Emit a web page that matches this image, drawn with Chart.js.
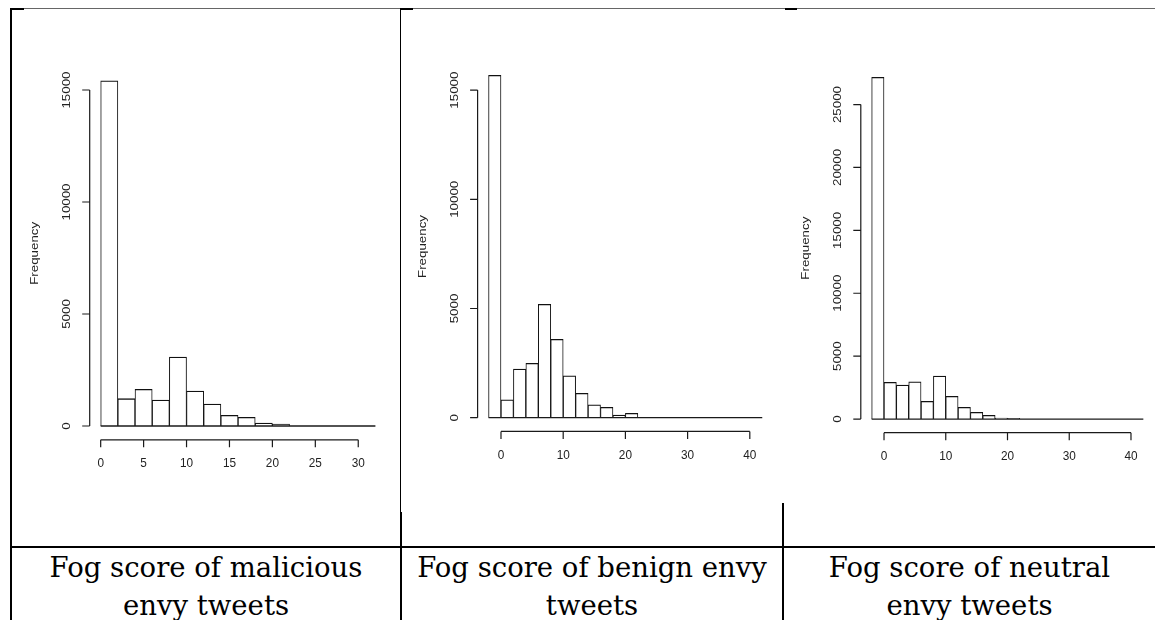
<!DOCTYPE html>
<html>
<head>
<meta charset="utf-8">
<script src="https://cdn.jsdelivr.net/npm/chart.js@4.4.0/dist/chart.umd.min.js"></script>
<style>
  body { margin: 0; width: 1155px; height: 620px; background: #fff; position: relative; overflow: hidden; }
  .ln { position: absolute; background: #000; }
  canvas { position: absolute; }
  .cap { position: absolute; top: 548px; font-family: 'DejaVu Serif', Georgia, serif; font-size: 27.5px;
         line-height: 38px; text-align: center; color: #000; white-space: nowrap; }
</style>
</head>
<body>
<div class="ln" style="left:10px;top:8px;width:1145px;height:1px;background:#666"></div>
<div class="ln" style="left:10px;top:8px;width:14px;height:2px"></div>
<div class="ln" style="left:400px;top:8px;width:13px;height:2px"></div>
<div class="ln" style="left:785px;top:8px;width:12px;height:2px"></div>
<div class="ln" style="left:10px;top:8px;width:2px;height:612px"></div>
<div class="ln" style="left:400px;top:8px;width:1px;height:504px"></div>
<div class="ln" style="left:400px;top:512px;width:2px;height:108px"></div>
<div class="ln" style="left:782px;top:503px;width:2px;height:117px"></div>
<div class="ln" style="left:10px;top:546px;width:1145px;height:2px"></div>

<canvas id="c1" width="386" height="530" style="left:12px;top:10px"></canvas>
<canvas id="c2" width="380" height="530" style="left:401px;top:10px"></canvas>
<canvas id="c3" width="371" height="530" style="left:784px;top:10px"></canvas>

<div class="cap" style="left:12px;width:388px">Fog score of malicious<br>envy tweets</div>
<div class="cap" style="left:401px;width:382px">Fog score of benign envy<br>tweets</div>
<div class="cap" style="left:784px;width:371px">Fog score of neutral<br>envy tweets</div>

<script>
// histogram breaks and counts
const maliciousBreaks = [0, 2, 4, 6, 8, 10, 12, 14, 16, 18, 20, 22, 24, 26, 28, 30, 32];
const maliciousCounts = [15415, 1219, 1638, 1161, 3080, 1562, 982, 478, 388, 134, 89, 0, 0, 0, 0, 0];
const maliciousXTicks = [0, 5, 10, 15, 20, 25, 30];
const maliciousYTicks = [0, 5000, 10000, 15000];

const benignBreaks = [-2, 0, 2, 4, 6, 8, 10, 12, 14, 16, 18, 20, 22, 24, 26, 28, 30, 32, 34, 36, 38, 40, 42];
const benignCounts = [15678, 824, 2230, 2491, 5192, 3590, 1923, 1117, 595, 476, 124, 201, 0, 0, 0, 0, 0, 0, 0, 0, 0, 0];
const benignXTicks = [0, 10, 20, 30, 40];
const benignYTicks = [0, 5000, 10000, 15000];

const neutralBreaks = [-2, 0, 2, 4, 6, 8, 10, 12, 14, 16, 18, 20, 22, 24, 26, 28, 30, 32, 34, 36, 38, 40, 42];
const neutralCounts = [27162, 2917, 2703, 2965, 1407, 3418, 1804, 930, 533, 294, 80, 50, 0, 0, 0, 0, 0, 0, 0, 0, 0, 0];
const neutralXTicks = [0, 10, 20, 30, 40];
const neutralYTicks = [0, 5000, 10000, 15000, 20000, 25000];

const yLabel = 'Frequency';

// R-style axes: detached lines, outward ticks, rotated y labels
const rAxes = {
  id: 'rAxes',
  afterDraw(chart, args, o) {
    const { ctx, chartArea: a, scales: { x, y } } = chart;
    const text = (s, px, py, rot) => {
      ctx.save();
      ctx.translate(px, py);
      ctx.scale(1, 1.13);
      if (rot) ctx.rotate(-Math.PI / 2);
      ctx.fillText(s, 0, 0);
      ctx.restore();
    };
    ctx.save();
    ctx.strokeStyle = '#1a1a1a';
    ctx.lineWidth = 1.2;
    ctx.beginPath();
    const yt = o.yTicks, xt = o.xTicks;
    ctx.moveTo(a.left, y.getPixelForValue(yt[0]));
    ctx.lineTo(a.left, y.getPixelForValue(yt[yt.length - 1]));
    yt.forEach(v => {
      const p = y.getPixelForValue(v);
      ctx.moveTo(a.left, p);
      ctx.lineTo(a.left - 7.5, p);
    });
    ctx.moveTo(x.getPixelForValue(xt[0]), a.bottom);
    ctx.lineTo(x.getPixelForValue(xt[xt.length - 1]), a.bottom);
    xt.forEach(v => {
      const p = x.getPixelForValue(v);
      ctx.moveTo(p, a.bottom);
      ctx.lineTo(p, a.bottom + 7.5);
    });
    ctx.stroke();

    ctx.fillStyle = '#222';
    ctx.font = '11.8px "Liberation Sans", Arial, sans-serif';
    ctx.textAlign = 'center';
    ctx.textBaseline = 'middle';
    yt.forEach(v => text(String(v), a.left - 23, y.getPixelForValue(v), true));
    xt.forEach(v => text(String(v), x.getPixelForValue(v), a.bottom + 24, false));
    text(yLabel, a.left - 55, (a.top + a.bottom) / 2, true);
    ctx.restore();
  }
};

function makeHist(id, breaks, counts, xTicks, yTicks, pad) {
  const first = breaks[0], last = breaks[breaks.length - 1];
  const span = last - first;
  const top = Math.max(...counts);
  const bars = counts.map((c, i) => ({ x: (breaks[i] + breaks[i + 1]) / 2, y: c }));

  new Chart(document.getElementById(id), {
    type: 'bar',
    data: {
      datasets: [
        {
          type: 'line',
          data: [{ x: first, y: 0 }, { x: last, y: 0 }],
          borderColor: '#1a1a1a',
          borderWidth: 1.3,
          pointRadius: 0
        },
        {
          data: bars,
          backgroundColor: '#fff',
          borderColor: '#111',
          borderWidth: { top: 1.3, left: 1, right: 1, bottom: 0 },
          borderSkipped: false,
          barPercentage: 1,
          categoryPercentage: 1
        }
      ]
    },
    options: {
      responsive: false,
      animation: false,
      devicePixelRatio: 1,
      layout: { padding: pad },
      plugins: { legend: { display: false }, tooltip: { enabled: false }, rAxes: { xTicks, yTicks } },
      scales: {
        x: {
          type: 'linear', display: false, offset: false,
          min: first - 0.04 * span, max: last + 0.04 * span,
          afterBuildTicks: s => { s.ticks = breaks.map(v => ({ value: v })); }
        },
        y: { type: 'linear', display: false, min: -0.04 * top, max: 1.04 * top }
      }
    },
    plugins: [rAxes]
  });
}

makeHist('c1', maliciousBreaks, maliciousCounts, maliciousXTicks, maliciousYTicks,
  { left: 77.7, right: 11.6, top: 56.9, bottom: 100.2 });
makeHist('c2', benignBreaks, benignCounts, benignXTicks, benignYTicks,
  { left: 76.6, right: 7.8, top: 51.6, bottom: 108.6 });
makeHist('c3', neutralBreaks, neutralCounts, neutralXTicks, neutralYTicks,
  { left: 76.8, right: 0.8, top: 53.7, bottom: 107.3 });
</script>
</body>
</html>
